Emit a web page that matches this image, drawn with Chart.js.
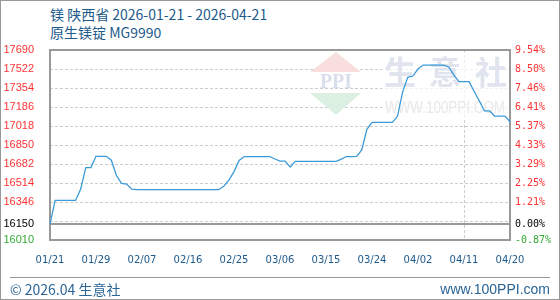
<!DOCTYPE html>
<html>
<head>
<meta charset="utf-8">
<script src="https://cdn.jsdelivr.net/npm/chart.js@4.4.1/dist/chart.umd.min.js"></script>
<style>
  body { margin: 0; background: #fff; }
  #wrap { position: relative; width: 560px; height: 300px; font-family: "Noto Sans CJK SC", sans-serif; }
  #chart { position: absolute; left: 0; top: 0; }
  #border { position: absolute; left: 0; top: 0; width: 560px; height: 300px; box-sizing: border-box; border: 1px solid #999; pointer-events: none; }
  .title { position: absolute; left: 50px; color: #1d5a8c; font-size: 14px; line-height: 18px; white-space: nowrap; }
  .foot { position: absolute; top: 280px; color: #2a6496; font-size: 14px; line-height: 18px; white-space: nowrap; }
  #sep { position: absolute; left: 10px; top: 277px; width: 540px; height: 1px; background: #999; }
</style>
</head>
<body>
<div id="wrap">
  <div class="title" style="top:5px">镁 陕西省 2026-01-21 - 2026-04-21</div>
  <div class="title" style="top:23px">原生镁锭 MG9990</div>
  <canvas id="chart" width="560" height="300"></canvas>
  <div id="sep"></div>
  <div class="foot" style="left:10px">© 2026.04 生意社</div>
  <div class="foot" style="right:10px;font-family:'Liberation Sans',sans-serif">www.100PPI.com</div>
  <div id="border"></div>
</div>
<script>
// 价格 (元/吨), 01/21 - 04/21
const priceValues = [
  16150, 16360, 16360, 16360, 16360, 16360, 16460, 16650, 16650, 16750,
  16750, 16750, 16715, 16580, 16510, 16505, 16460, 16455, 16455, 16455,
  16455, 16455, 16455, 16455, 16455, 16455, 16455, 16455, 16455, 16455,
  16455, 16455, 16455, 16455, 16485, 16540, 16615, 16714, 16748, 16748,
  16748, 16748, 16748, 16748, 16726, 16708, 16708, 16655, 16705, 16705,
  16705, 16705, 16705, 16705, 16705, 16705, 16705, 16725, 16748, 16748,
  16750, 16806, 16989, 17050, 17050, 17050, 17050, 17050, 17106, 17320,
  17449, 17460, 17522, 17557, 17557, 17557, 17557, 17557, 17540, 17470,
  17410, 17410, 17410, 17323, 17239, 17151, 17151, 17106, 17106, 17106,
  17056
];
const xTickLabels = ['01/21', '01/29', '02/07', '02/16', '02/25', '03/06', '03/15', '03/24', '04/02', '04/11', '04/20'];
const xTickStep = 9;
const baseValue = 16150;
const yMin = 16010;
const yMax = 17690;
const yGridTicks = [16010, 16150, 16178, 16346, 16514, 16682, 16850, 17018, 17186, 17354, 17522, 17690];
const yLabelTicks = [16010, 16150, 16346, 16514, 16682, 16850, 17018, 17186, 17354, 17522, 17690];

const categories = priceValues.map((_, i) => i);

function tickColor(v) {
  if (v > baseValue) return '#ff3333';
  if (v < baseValue) return '#33aa33';
  return '#000000';
}

// 水印 + 边框
const framePlugin = {
  id: 'frame',
  beforeDatasetsDraw(chart) {
    const ctx = chart.ctx;
    const a = chart.chartArea;
    ctx.save();
    ctx.fillStyle = 'rgba(255,255,255,0.7)';
    ctx.fillRect(382, 52, 127, 67);
    // logo
    ctx.fillStyle = '#f9dede';
    ctx.beginPath(); ctx.moveTo(310, 72); ctx.lineTo(336, 52); ctx.lineTo(361, 72); ctx.closePath(); ctx.fill();
    ctx.fillStyle = '#dcf0e2';
    ctx.beginPath(); ctx.moveTo(310, 93); ctx.lineTo(361, 93); ctx.lineTo(336, 115); ctx.closePath(); ctx.fill();
    ctx.fillStyle = '#d9dfec';
    ctx.font = 'bold 20px "Liberation Serif"';
    ctx.textAlign = 'center'; ctx.textBaseline = 'middle';
    ctx.fillText('PPI', 336, 83, 46);
    ctx.fillStyle = '#dfe4ee';
    ctx.font = 'bold 32px "Noto Sans CJK SC"';
    ctx.fillText('生', 400, 72);
    ctx.fillText('意', 445, 72);
    ctx.fillText('社', 491, 72);
    ctx.fillStyle = '#e8e8e8';
    ctx.font = '17px "Liberation Sans"';
    ctx.fillText('WWW.100PPI.COM', 445, 108, 120);
    ctx.strokeStyle = '#999999';
    ctx.lineWidth = 2;
    ctx.strokeRect(a.left, a.top, a.right - a.left, a.bottom - a.top);
    ctx.restore();
  }
};

new Chart(document.getElementById('chart'), {
  type: 'line',
  data: {
    labels: categories,
    datasets: [{
      data: priceValues,
      borderColor: '#3b9ad9',
      borderWidth: 1.3,
      pointRadius: 0,
      tension: 0,
      fill: false,
      yAxisID: 'y'
    }]
  },
  options: {
    responsive: false,
    animation: false,
    devicePixelRatio: 1,
    layout: { padding: { left: 4, right: 4, top: 50, bottom: 36 } },
    plugins: { legend: { display: false }, tooltip: { enabled: false } },
    scales: {
      x: {
        offset: false,
        grid: {
          drawTicks: false,
          lineWidth: 1,
          color: ctx => (ctx.index % xTickStep === 0 ? '#cccccc' : 'rgba(0,0,0,0)')
        },
        border: { display: false, dash: [3, 2] },
        ticks: {
          autoSkip: false,
          maxRotation: 0,
          padding: 14,
          color: '#1d5a8c',
          font: { family: 'DejaVu Sans', size: 10 },
          callback: (v, i) => (i % xTickStep === 0 ? xTickLabels[i / xTickStep] : null)
        },
        afterFit: s => { s.height = 24; }
      },
      y: {
        position: 'left',
        min: yMin,
        max: yMax,
        afterBuildTicks: s => { s.ticks = yGridTicks.map(v => ({ value: v })); },
        grid: {
          drawTicks: false,
          color: ctx => (ctx.tick && ctx.tick.value === baseValue ? '#999999' : '#cccccc'),
          lineWidth: ctx => (ctx.tick && ctx.tick.value === baseValue ? 2 : 1)
        },
        border: { display: false, dash: ctx => (ctx.tick && ctx.tick.value === baseValue ? [] : [3, 2]) },
        ticks: {
          padding: 16,
          color: ctx => tickColor(ctx.tick.value),
          font: { family: 'Liberation Sans', size: 11 },
          callback: v => (yLabelTicks.includes(v) ? String(v) : '')
        },
        afterFit: s => { s.width = 46; }
      },
      y1: {
        position: 'right',
        min: yMin,
        max: yMax,
        afterBuildTicks: s => { s.ticks = yLabelTicks.map(v => ({ value: v })); },
        grid: { display: false, drawTicks: false },
        border: { display: false },
        ticks: {
          padding: 5,
          color: ctx => tickColor(ctx.tick.value),
          font: { family: 'DejaVu Sans Mono', size: 10 },
          callback: v => ((v - baseValue) / baseValue * 100).toFixed(2) + '%'
        },
        afterFit: s => { s.width = 46; }
      }
    }
  },
  plugins: [framePlugin]
});
</script>
</body>
</html>
